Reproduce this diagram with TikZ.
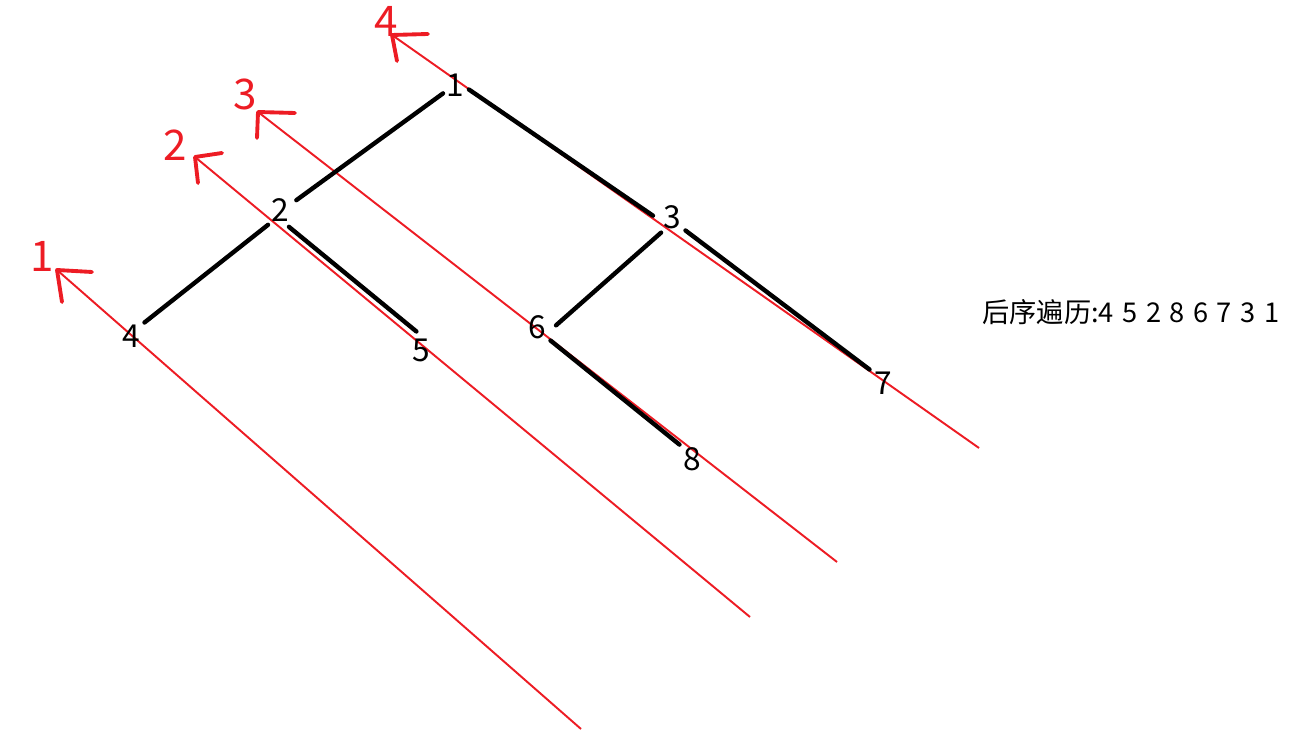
\documentclass[tikz,border=0pt]{standalone}
\usepackage{fontspec}
\setmainfont{Noto Sans CJK SC}
\usepackage{tikz}
\usetikzlibrary{calc}
\definecolor{cRed}{RGB}{237,28,36}
\tikzset{
	vtx/.style      ={circle, inner sep=0pt, minimum size=0.75cm, font=\fontsize{18}{21}\selectfont},
	treeline/.style ={line width=2.5pt, black, line cap=round},
	% scan line styles
	scanline/.style ={line width=1.1pt, cRed},
	scanhead/.style ={line width=2.2pt, cRed, line cap=round, line join=round},
	scanlabel/.style={text=cRed, inner sep=0pt, font=\fontsize{24}{28}\selectfont},
}
\begin{document}
\begin{tikzpicture}[x=0.02cm, y=-0.02cm]
	\useasboundingbox (0,0) rectangle (1300,739);
	\coordinate (t1) at (57,270);
	\coordinate (e1) at (581,729);
	\coordinate (t2) at (195,157);
	\coordinate (e2) at (750,617);
	\coordinate (t3) at (258,112);
	\coordinate (e3) at (837,562);
	\coordinate (t4) at (392,35);
	\coordinate (e4) at (979,448);
	\draw[scanline] (t1) -- (e1);
	\draw[scanline] (t2) -- (e2);
	\draw[scanline] (t3) -- (e3);
	\draw[scanline] (t4) -- (e4);
	\draw[scanhead] ($(t1)+(35,2)$) -- (t1) -- ++(5,32);
	\draw[scanhead] ($(t2)+(27,-4)$) -- (t2) -- ++(3,26);
	\draw[scanhead] ($(t3)+(37,1)$) -- (t3) -- ++(-1,26);
	\draw[scanhead] ($(t4)+(36,-1)$) -- (t4) -- ++(5,26);
	\node[scanlabel] (l1) at (42,256) {1};
	\node[scanlabel] (l2) at (175,145) {2};
	\node[scanlabel] (l3) at (245,94) {3};
	\node[scanlabel] (l4) at (386,21) {4};
	\node[vtx, minimum size=0.45cm] (n1) at (455,85) {1};
	\node[vtx] (n2) at (280,210) {2};
	\node[vtx] (n3) at (672,217) {3};
	\node[vtx] (n4) at (131,336) {4};
	\node[vtx] (n5) at (421,350) {5};
	\node[vtx] (n6) at (537,327) {6};
	\node[vtx] (n7) at (883,383) {7};
	\node[vtx] (n8) at (692,459) {8};
	\draw[treeline] (n1.-145) -- (n2.31);
	\draw[treeline] (n1.-18) -- (n3.176);
	\draw[treeline] (n2.231) -- (n4.45);
	\draw[treeline] (n2.-62) -- (n5.104);
	\draw[treeline] (n3.235) -- (n6.5);
	\draw[treeline] (n3.-45) -- (n7.135);
	\draw[treeline] (n6.-45) -- (n8.131);
	\node[anchor=west, inner sep=0pt, font=\fontsize{15.5}{18}\selectfont] (post) at (982,312) {\spaceskip=0.17cm 后序遍历:4 5 2 8 6 7 3 1};
\end{tikzpicture}
\end{document}
